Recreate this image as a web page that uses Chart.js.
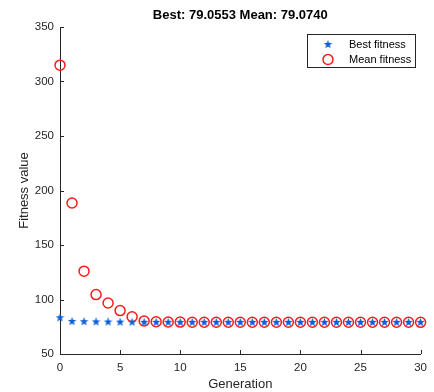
<!DOCTYPE html>
<html><head><meta charset="utf-8">
<script src="https://cdn.jsdelivr.net/npm/chart.js@4.4.0/dist/chart.umd.min.js"></script>
<style>html,body{margin:0;padding:0;background:#fff;}#wrap{width:434px;height:392px;position:relative;}</style>
</head><body><div id="wrap"><canvas id="c" width="434" height="392"></canvas></div>
<script>
const titleText = 'Best: 79.0553 Mean: 79.0740';
const seriesNames = ['Best fitness', 'Mean fitness'];
const generations = [0,1,2,3,4,5,6,7,8,9,10,11,12,13,14,15,16,17,18,19,20,21,22,23,24,25,26,27,28,29,30];
const bestFitness = [83.3,79.9,79.7,79.5,79.4,79.3,79.2,79.12,79.09,79.08,79.07,79.07,79.06,79.06,79.06,79.06,79.06,79.06,79.06,79.06,79.06,79.06,79.06,79.06,79.06,79.06,79.06,79.06,79.06,79.06,79.0553];
const meanFitness = [315,188.5,126,104.5,96.8,89.8,84.2,80.3,79.6,79.35,79.25,79.18,79.14,79.12,79.1,79.09,79.09,79.08,79.08,79.08,79.08,79.08,79.08,79.08,79.08,79.08,79.08,79.08,79.08,79.08,79.074];
const xTicks = [0,5,10,15,20,25,30];
const yTicks = [50,100,150,200,250,300,350];

const BLUE = '#0b5fd6', RED = '#ff1a1a', AX = '#262626';
const FONT = '"Liberation Sans", Arial, Helvetica, sans-serif';

function starImage(size, color){
  const c = document.createElement('canvas'); c.width = size; c.height = size;
  const g = c.getContext('2d'); const cx = size/2, cy = size/2, R = size/2, r = R*0.42;
  g.beginPath();
  for(let i=0;i<10;i++){ const a = -Math.PI/2 + i*Math.PI/5; const rr = i%2?r:R; g.lineTo(cx+rr*Math.cos(a), cy+rr*Math.sin(a)); }
  g.closePath(); g.fillStyle = color; g.fill(); return c;
}
const star = starImage(9, BLUE);

const overlay = {
  id:'overlay',
  afterDraw(chart){
    const ctx = chart.ctx, ca = chart.chartArea, xs = chart.scales.x, ys = chart.scales.y;
    ctx.save();
    ctx.strokeStyle = AX; ctx.lineWidth = 1;
    ctx.beginPath();
    xTicks.forEach(v=>{ const px = Math.round(xs.getPixelForValue(v))+0.5; ctx.moveTo(px, ca.bottom); ctx.lineTo(px, ca.bottom-4); });
    yTicks.forEach(v=>{ const py = Math.round(ys.getPixelForValue(v))+0.5; ctx.moveTo(ca.left, py); ctx.lineTo(ca.left+4, py); });
    ctx.stroke();
    // title
    ctx.fillStyle = '#000'; ctx.font = 'bold 13px ' + FONT; ctx.textAlign = 'center'; ctx.textBaseline = 'middle';
    ctx.fillText(titleText, (ca.left+ca.right)/2, 15);
    // legend
    const lx = 307.5, ly = 34.5, lw = 108, lh = 33;
    ctx.fillStyle = '#fff'; ctx.fillRect(lx, ly, lw, lh);
    ctx.strokeStyle = '#262626'; ctx.lineWidth = 1; ctx.strokeRect(lx, ly, lw, lh);
    ctx.drawImage(star, 328-4.5, 44.5-4.5);
    ctx.strokeStyle = RED; ctx.lineWidth = 1.5; ctx.beginPath(); ctx.arc(328, 59.5, 5, 0, Math.PI*2); ctx.stroke();
    ctx.fillStyle = '#000'; ctx.font = '11px ' + FONT; ctx.textAlign = 'left';
    ctx.fillText(seriesNames[0], 349, 45);
    ctx.fillText(seriesNames[1], 349, 60);
    ctx.restore();
  }
};

new Chart(document.getElementById('c'), {
  type:'scatter',
  data:{ datasets:[
    { label: seriesNames[1], data: generations.map((g,i)=>({x:g,y:meanFitness[i]})), pointStyle:'circle', pointRadius:5, pointBorderWidth:1.5, borderColor:RED, backgroundColor:'rgba(0,0,0,0)', order:2, clip:false },
    { label: seriesNames[0], data: generations.map((g,i)=>({x:g,y:bestFitness[i]})), pointStyle:star, borderColor:BLUE, backgroundColor:BLUE, order:1, clip:false }
  ]},
  options:{
    responsive:false, animation:false, devicePixelRatio:1,
    layout:{ padding:{ top:27, right:10, left:0, bottom:0 } },
    plugins:{ legend:{display:false}, title:{display:false}, tooltip:{enabled:false} },
    scales:{
      x:{ type:'linear', min:0, max:30,
        afterFit(s){ s.height = 38; },
        afterBuildTicks(s){ s.ticks = xTicks.map(v=>({value:v})); },
        grid:{ display:false, drawTicks:false },
        border:{ display:true, color:AX, width:1 },
        ticks:{ padding:7, color:AX, font:{ family:FONT, size:11.5 }, maxRotation:0 },
        title:{ display:true, text:'Generation', color:AX, font:{ family:FONT, size:13 }, padding:{top:0,bottom:0} }
      },
      y:{ type:'linear', min:50, max:350,
        afterFit(s){ s.width = 60; },
        afterBuildTicks(s){ s.ticks = yTicks.map(v=>({value:v})); },
        grid:{ display:false, drawTicks:false },
        border:{ display:true, color:AX, width:1 },
        ticks:{ padding:6, color:AX, font:{ family:FONT, size:11.5 } },
        title:{ display:true, text:'Fitness value', color:AX, font:{ family:FONT, size:13 }, padding:{top:17,bottom:0} }
      }
    }
  },
  plugins:[overlay]
});
</script></body></html>
